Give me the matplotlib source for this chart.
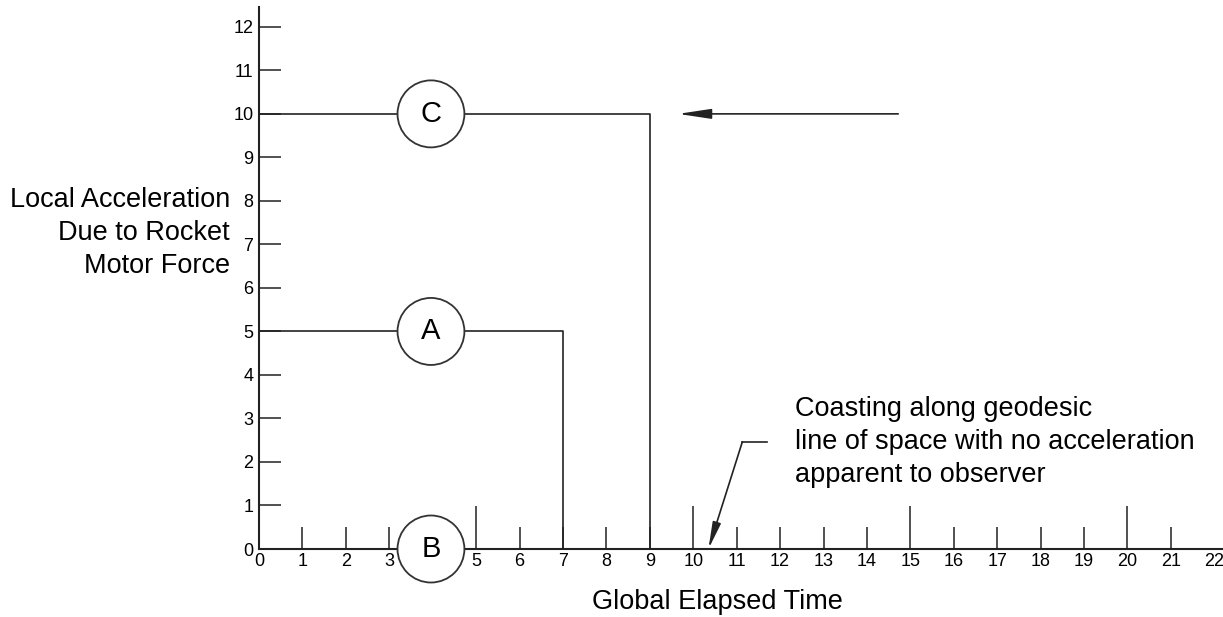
import matplotlib
matplotlib.use("Agg")
import matplotlib.pyplot as plt
from matplotlib.patches import Circle
from matplotlib.transforms import blended_transform_factory

plt.rcParams['font.family'] = ['Liberation Sans', 'DejaVu Sans']

# data
x_ticks = list(range(0, 23))
y_ticks = list(range(0, 13))
major_x = [5, 10, 15, 20]
hidden_x = [4]          # label sits under circle B
# step profiles: level, end time
path_a = ([0, 7, 7], [5, 5, 0])
path_c = ([0, 9, 9], [10, 10, 0])
circle_x = 3.96
circles = [("A", 5), ("B", 0), ("C", 10)]
ylab = "Local Acceleration\nDue to Rocket\nMotor Force"
xlab = "Global Elapsed Time"
note = "Coasting along geodesic\nline of space with no acceleration\napparent to observer"

fig = plt.figure(figsize=(12.23, 6.17), dpi=100)
ax = fig.add_axes([259 / 1223, 1 - 549 / 617, 1 - 259 / 1223, 0.878])
ax.set_xlim(0, 22.2)
ax.set_ylim(0, 12.45)

lc = '#222222'
ax.plot(*path_a, color=lc, lw=1.2, zorder=2)
ax.plot(*path_c, color=lc, lw=1.2, zorder=2)

for lab, yv in circles:
    ax.add_patch(Circle((circle_x, yv), 0.77, facecolor='white', edgecolor='#333333',
                        lw=1.3, zorder=4, clip_on=False))
    ax.text(circle_x, yv, lab, ha='center', va='center', fontsize=21, zorder=5)

# arrow pointing at C line
ax.annotate("", xy=(9.65, 10), xytext=(14.72, 10),
            arrowprops=dict(arrowstyle='-|>,head_length=2.0,head_width=0.3',
                            color='#222222', lw=1.2, shrinkA=0, shrinkB=0))

# callout for coasting
ax.plot([11.7, 11.13], [2.46, 2.46], color=lc, lw=1.2)
ax.annotate("", xy=(10.35, 0.0), xytext=(11.13, 2.46),
            arrowprops=dict(arrowstyle='-|>,head_length=1.6,head_width=0.25',
                            color='#222222', lw=1.2, shrinkA=0, shrinkB=0))
ax.text(12.35, 2.46, note, ha='left', va='center', fontsize=19.5, linespacing=1.36)

# spines
for s in ['top', 'right']:
    ax.spines[s].set_visible(False)
for s in ['left', 'bottom']:
    ax.spines[s].set_linewidth(1.5)
    ax.spines[s].set_color('#222222')

minor_x = [v for v in x_ticks if v not in major_x and v != 22]
ax.set_xticks(major_x, [str(v) for v in major_x])
ax.set_xticks(minor_x, ["" if v in hidden_x else str(v) for v in minor_x], minor=True)
ax.tick_params(axis='x', which='major', direction='in', length=31, width=1.1,
               color=lc, labelsize=13, pad=3)
ax.tick_params(axis='x', which='minor', direction='in', length=15.8, width=1.1,
               color=lc, labelsize=13, pad=3)
ax.set_yticks(y_ticks, [str(v) for v in y_ticks])
ax.tick_params(axis='y', direction='in', length=15.8, width=1.1, color=lc,
               labelsize=13, pad=4)
trans = blended_transform_factory(ax.transData, ax.transAxes)
ax.text(22, -0.008, "22", transform=trans, ha='center', va='top', fontsize=13)

fig.text(230 / 1223, 1 - 233 / 617, ylab, ha='right', va='center', fontsize=19.5,
         multialignment='right', linespacing=1.36)
fig.text(717 / 1223, 1 - 602 / 617, xlab, ha='center', va='center', fontsize=19.5)

fig.savefig("out.png", dpi=100)
